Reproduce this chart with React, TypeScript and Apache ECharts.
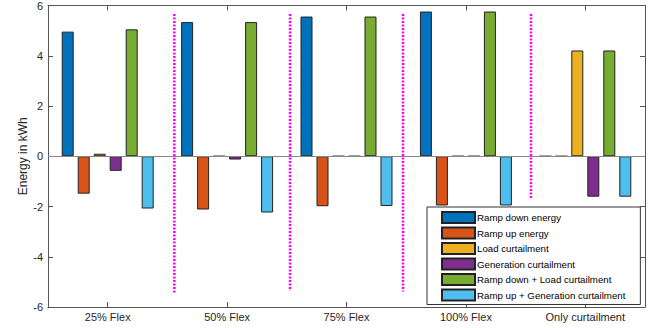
import React, { useEffect, useRef } from "react";
import * as echarts from "echarts";

const categories = ["25% Flex", "50% Flex", "75% Flex", "100% Flex", "Only curtailment"];
const seriesNames = [
  "Ramp down energy",
  "Ramp up energy",
  "Load curtailment",
  "Generation curtailment",
  "Ramp down + Load curtailment",
  "Ramp up + Generation curtailment",
];
const rampDown = [4.96, 5.34, 5.56, 5.76, 0];
const rampUp = [-1.49, -2.12, -1.99, -1.96, 0];
const loadCurt = [0.1, 0, 0, 0, 4.21];
const genCurt = [-0.58, -0.13, 0, 0, -1.61];
const rampDownLoad = [5.05, 5.34, 5.56, 5.76, 4.21];
const rampUpGen = [-2.08, -2.24, -1.98, -1.96, -1.61];
const seriesValues = [rampDown, rampUp, loadCurt, genCurt, rampDownLoad, rampUpGen];
const seriesColors = ["#0072BD", "#D95319", "#EDB120", "#7E2F8E", "#77AC30", "#4DBEEE"];

const yTicks = [-6, -4, -2, 0, 2, 4, 6];
const dividerX = [1.058, 2.027, 2.973, 4.045];
const dividerTop = [5.66, 5.66, 5.66, 5.66];
const dividerBottom = [-5.42, -5.35, -5.38, -1.7];

const FONT = "Liberation Sans, Arial, Helvetica, sans-serif";

export default function App() {
  const ref = useRef<HTMLDivElement>(null);
  useEffect(() => {
    document.body.style.margin = "0";
    const chart = echarts.init(ref.current!, null, { renderer: "svg" });
    const axisLine = { show: true, onZero: false, lineStyle: { color: "#555", width: 1 } };
    const tick = { show: true, inside: true, length: 5, lineStyle: { color: "#555" } };
    const barSeries = seriesNames.map((name, i) => ({
      name,
      type: "bar",
      xAxisIndex: 0,
      yAxisIndex: 0,
      barWidth: 12,
      barGap: "33.3%",
      data: seriesValues[i],
      itemStyle: { color: seriesColors[i], borderColor: "#222", borderWidth: 1 },
      ...(i === 0
        ? {
            markLine: {
              silent: true,
              symbol: "none",
              label: { show: false },
              lineStyle: { color: "#888", type: "solid", width: 1 },
              data: [{ yAxis: 0 }],
            },
          }
        : {}),
    }));
    const dividerSeries = dividerX.map((x, i) => ({
      type: "line",
      xAxisIndex: 2,
      yAxisIndex: 0,
      symbol: "none",
      silent: true,
      lineStyle: { color: "#FF00FF", width: 2.5, type: [2, 1.5] },
      data: [
        [x, dividerTop[i]],
        [x, dividerBottom[i]],
      ],
      z: 3,
    }));
    chart.setOption({
      animation: false,
      textStyle: { fontFamily: FONT },
      grid: { left: 48, top: 3, width: 597, height: 304, containLabel: false },
      legend: {
        orient: "vertical",
        left: 427,
        top: 207,
        padding: [4, 15, 3, 14],
        itemWidth: 33,
        itemHeight: 11,
        itemGap: 2.5,
        icon: "rect",
        backgroundColor: "#fff",
        borderColor: "#333",
        borderWidth: 1,
        borderRadius: 0,
        data: seriesNames,
        textStyle: {
          fontSize: 9.7,
          lineHeight: 11,
          color: "#000",
          fontFamily: FONT,
          padding: [0, 0, 0, -3],
        },
        z: 10,
      },
      xAxis: [
        {
          type: "category",
          data: categories,
          position: "bottom",
          axisLine,
          axisTick: { ...tick, alignWithLabel: true },
          axisLabel: { fontSize: 11, color: "#262626", margin: 4, fontFamily: FONT },
          splitLine: { show: false },
        },
        {
          type: "category",
          data: categories,
          position: "top",
          axisLine,
          axisTick: { ...tick, alignWithLabel: true },
          axisLabel: { show: false },
          splitLine: { show: false },
        },
        { type: "value", min: 0, max: 5, show: false },
      ],
      yAxis: [
        {
          type: "value",
          min: yTicks[0],
          max: yTicks[yTicks.length - 1],
          interval: 2,
          position: "left",
          name: "Energy in kWh",
          nameLocation: "middle",
          nameRotate: 90,
          nameGap: 19,
          nameMoveOverlap: false,
          nameTextStyle: { fontSize: 12, color: "#262626", fontFamily: FONT },
          axisLine,
          axisTick: tick,
          axisLabel: { fontSize: 11, color: "#262626", margin: 5, fontFamily: FONT },
          splitLine: { show: false },
        },
        {
          type: "value",
          min: yTicks[0],
          max: yTicks[yTicks.length - 1],
          interval: 2,
          position: "right",
          axisLine,
          axisTick: tick,
          axisLabel: { show: false },
          splitLine: { show: false },
        },
      ],
      series: [...barSeries, ...dividerSeries],
    });
    return () => chart.dispose();
  }, []);
  return <div ref={ref} style={{ width: 664, height: 328 }} />;
}
